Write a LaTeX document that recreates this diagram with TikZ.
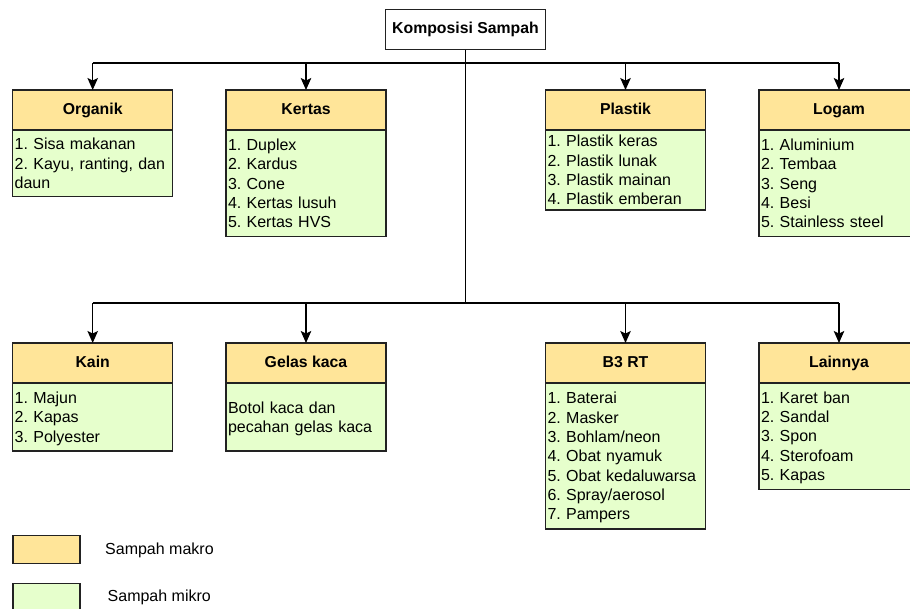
\documentclass[tikz,border=0pt]{standalone}
\usepackage{fontspec}
\setmainfont{Liberation Sans}
\usetikzlibrary{arrows.meta}
\definecolor{hdrcol}{HTML}{FFE599}
\definecolor{bodycol}{HTML}{E6FFCC}
\definecolor{edgecol}{HTML}{222222}
\frenchspacing
\tikzset{
  titlebox/.style={draw=edgecol, fill=white, line width=1.2pt, minimum width=160pt, minimum height=40pt, inner sep=0pt, outer sep=0pt, text height=11.4pt, text depth=3.4pt, font=\bfseries\fontsize{15.8}{19.3}\selectfont},
  hdr/.style={draw=edgecol, fill=hdrcol, line width=1.2pt, minimum width=160pt, minimum height=40pt, inner sep=0pt, outer sep=0pt, text height=11.4pt, text depth=3.4pt, font=\bfseries\fontsize{15.8}{19.3}\selectfont},
  bodybox/.style={draw=edgecol, fill=bodycol, line width=1.2pt, text width=156pt, align=left, inner xsep=2pt, inner ysep=0pt, outer sep=0pt, anchor=north, text height=11.6pt, text depth=#1, font=\fontsize{16}{19.3}\selectfont},
  legbox/.style={draw=edgecol, line width=1.2pt, minimum width=67pt, minimum height=27.5pt, inner sep=0pt, outer sep=0pt},
  legtext/.style={anchor=west, inner sep=0pt, font=\fontsize{16}{19.3}\selectfont},
  bus/.style={draw=black, line width=1.3pt},
  arr/.style={draw=black, line width=1.3pt, -{Stealth[length=12pt,width=10.5pt,inset=2.5pt]}}
}
\begin{document}
\begin{tikzpicture}[x=1pt,y=-1pt]
\useasboundingbox (0,0) rectangle (910,608);
% title
\node[titlebox] (title) at (465.5,29.5) {Komposisi Sampah};
% top row
\node[hdr] (org) at (92.7,110) {Organik};
\node[bodybox=38.6pt, minimum height=66.7pt] (orgb) at (org.south) {1. Sisa makanan\\2. Kayu, ranting, dan daun};
\node[hdr] (ker) at (306,110) {Kertas};
\node[bodybox=77.2pt, minimum height=106.7pt] (kerb) at (ker.south) {1. Duplex\\2. Kardus\\3. Cone\\4. Kertas lusuh\\5. Kertas HVS};
\node[hdr] (pla) at (625.5,110) {Plastik};
\node[bodybox=57.9pt, minimum height=80pt] (plab) at (pla.south) {1. Plastik keras\\2. Plastik lunak\\3. Plastik mainan\\4. Plastik emberan};
\node[hdr] (log) at (839,110) {Logam};
\node[bodybox=77.2pt, minimum height=106.7pt] (logb) at (log.south) {1. Aluminium\\2. Tembaa\\3. Seng\\4. Besi\\5. Stainless steel};
% bottom row
\node[hdr] (kain) at (92.7,363) {Kain};
\node[bodybox=38.6pt, minimum height=68pt] (kainb) at (kain.south) {1. Majun\\2. Kapas\\3. Polyester};
\node[hdr] (gel) at (306,363) {Gelas kaca};
\node[bodybox=19.3pt, minimum height=68pt] (gelb) at (gel.south) {Botol kaca dan\\pecahan gelas kaca};
\node[hdr] (bti) at (625.5,363) {B3 RT};
\node[bodybox=115.8pt, minimum height=146pt] (btib) at (bti.south) {1. Baterai\\2. Masker\\3. Bohlam/neon\\4. Obat nyamuk\\5. Obat kedaluwarsa\\6. Spray/aerosol\\7. Pampers};
\node[hdr] (lain) at (839,363) {Lainnya};
\node[bodybox=77.2pt, minimum height=106.3pt] (lainb) at (lain.south) {1. Karet ban\\2. Sandal\\3. Spon\\4. Sterofoam\\5. Kapas};
% connectors
\coordinate (btop) at (465.5,63);
\coordinate (bbot) at (465.5,303);
\draw[bus] (title.south) -- (bbot);
\draw[bus] (org.north |- btop) -- (log.north |- btop);
\draw[bus] (kain.north |- bbot) -- (lain.north |- bbot);
\foreach \n in {org,ker,pla,log}{
  \draw[arr] (\n.north |- btop) -- (\n.north);
}
\foreach \n in {kain,gel,bti,lain}{
  \draw[arr] (\n.north |- bbot) -- (\n.north);
}
% legend
\node[legbox, fill=hdrcol] (lg1) at (46.5,549.5) {};
\node[legtext] (lt1) at (105,550) {Sampah makro};
\node[legbox, fill=bodycol] (lg2) at (46.5,597) {};
\node[legtext] (lt2) at (107.5,597) {Sampah mikro};
\end{tikzpicture}
\end{document}
